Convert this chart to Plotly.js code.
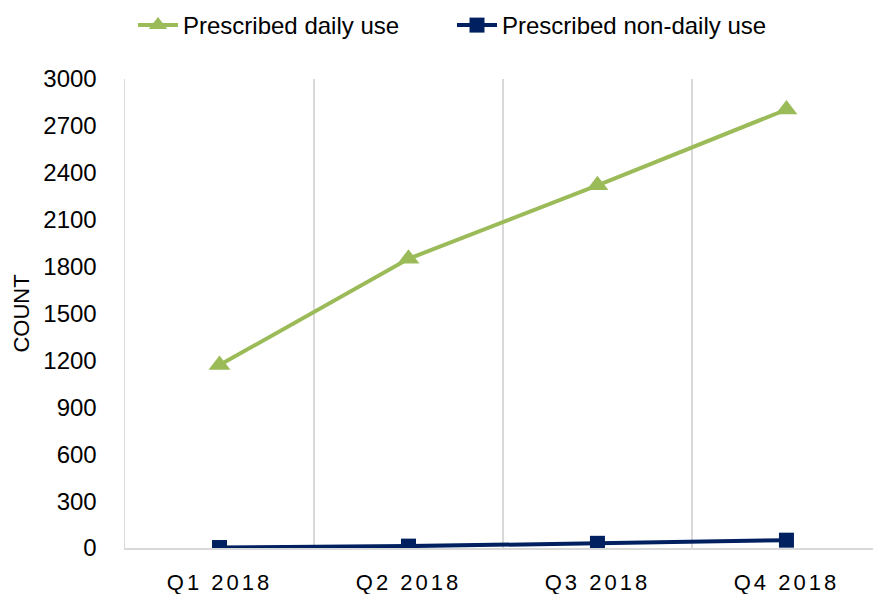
<!DOCTYPE html>
<html>
<head>
<meta charset="utf-8">
<script src="https://cdn.plot.ly/plotly-3.0.1.min.js"></script>
<style>
html, body { margin: 0; padding: 0; background: #fff; }
#chart { width: 873px; height: 594px; }
.xtick text { letter-spacing: 3px; }
</style>
</head>
<body>
<div id="chart"></div>
<script>
const categories = ["Q1 2018", "Q2 2018", "Q3 2018", "Q4 2018"];
const dailyUse = [1170, 1850, 2320, 2805];
const nonDailyUse = [3, 12, 30, 50];
const yTickVals = [0, 300, 600, 900, 1200, 1500, 1800, 2100, 2400, 2700, 3000];

const FONT = "Liberation Sans, Arial, sans-serif";

const traces = [
  {
    x: categories, y: dailyUse, name: "Prescribed daily use",
    type: "scatter", mode: "lines+markers",
    line: { color: "#9BBB59", width: 4 },
    marker: { symbol: "triangle-up", size: 19, color: "#9BBB59" }
  },
  {
    x: categories, y: nonDailyUse, name: "Prescribed non-daily use",
    type: "scatter", mode: "lines+markers",
    line: { color: "#002060", width: 4 },
    marker: { symbol: "square", size: 15, color: "#002060" }
  }
];

const layout = {
  width: 873, height: 594,
  margin: { l: 125, r: 0, t: 79, b: 46, autoexpand: false },
  paper_bgcolor: "#fff", plot_bgcolor: "#fff",
  font: { family: FONT, size: 22, color: "#000" },
  showlegend: true,
  legend: {
    orientation: "h", xref: "container", yref: "container",
    x: 133 / 873, xanchor: "left", y: 1 - 3 / 594, yanchor: "top",
    font: { family: FONT, size: 24, color: "#000" },
    itemwidth: 40, entrywidth: 264, entrywidthmode: "pixels", tracegroupgap: 0
  },
  xaxis: {
    type: "category", range: [-0.5, 3.458],
    tickson: "boundaries", showgrid: true, gridcolor: "#d9d9d9", gridwidth: 1.5,
    ticks: "", showline: true, linecolor: "#d9d9d9", linewidth: 1.5,
    tickfont: { family: FONT, size: 22, color: "#000" },
    ticklabelstandoff: 14, zeroline: false
  },
  yaxis: {
    range: [0, 3000], tickvals: yTickVals, showgrid: false, zeroline: false,
    showline: true, linecolor: "#d9d9d9", linewidth: 1.5, ticks: "",
    tickfont: { family: FONT, size: 24, color: "#000" },
    ticklabelstandoff: 22,
    title: { text: "COUNT", font: { family: FONT, size: 22, color: "#000" }, standoff: 7 }
  }
};

Plotly.newPlot("chart", traces, layout, { displayModeBar: false, staticPlot: true });
</script>
</body>
</html>
